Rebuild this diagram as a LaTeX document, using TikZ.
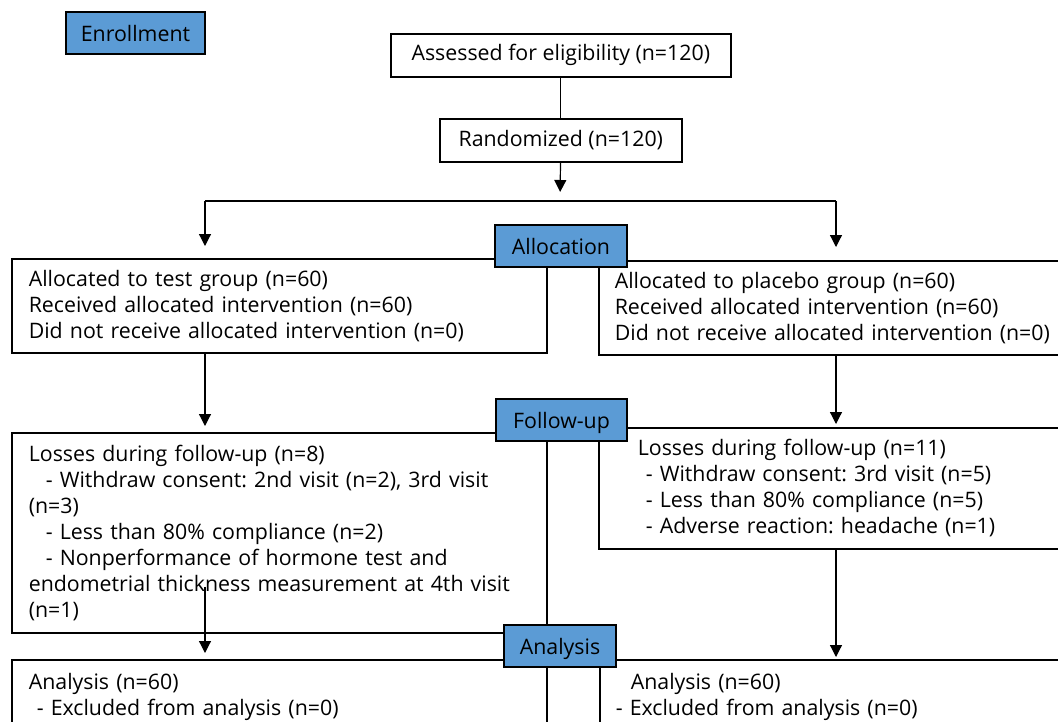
\documentclass[tikz,border=0pt]{standalone}
\usepackage{fontspec}
\setmainfont{Open Sans}
\usetikzlibrary{arrows.meta,calc}
\definecolor{stageblue}{HTML}{5B9BD5}
\frenchspacing
\begin{document}
\begin{tikzpicture}[x=0.75pt, y=-0.75pt,
  txt/.style={font=\fontsize{16}{19.5}\selectfont},
  box/.style={txt, draw=black, line width=1.2pt, anchor=north west, align=left, inner ysep=0pt},
  stage/.style={txt, draw=black, fill=stageblue, line width=1.5pt, minimum height=31.5pt, inner sep=0pt,
    text height=12pt, text depth=0pt},
  arr/.style={line width=0.9pt, -{Triangle[length=9pt,width=9pt]}}]
\useasboundingbox (0,0) rectangle (1058,722);
\clip (0,0) rectangle (1058,722);
% boxes
\node[box, minimum width=255pt, minimum height=32.25pt] (assess) at (390,33) {Assessed for eligibility (n=120)};
\node[box, minimum width=181.5pt, minimum height=32.25pt] (rand) at (439,118) {Randomized (n=120)};
\node[box, text width=375.75pt, inner xsep=12.75pt, minimum height=70.5pt] (allocL) at (11,258)
  {Allocated to test group (n=60)\\Received allocated intervention (n=60)\\Did not receive allocated intervention (n=0)};
\node[box, text width=330pt, inner xsep=12pt, minimum height=70.5pt] (allocR) at (598,260)
  {Allocated to placebo group (n=60)\\Received allocated intervention (n=60)\\Did not receive allocated intervention (n=0)};
\node[box, text width=375.75pt, inner xsep=12.75pt, minimum height=150pt] (fuL) at (11,432)
  {Losses during follow-up (n=8)\\
   \hspace*{12.75pt}- Withdraw consent: 2nd visit (n=2), 3rd visit\\
   (n=3)\\
   \hspace*{12.75pt}- Less than 80\% compliance (n=2)\\
   \hspace*{12.75pt}- Nonperformance of hormone test and\\
   endometrial thickness measurement at 4th visit\\
   (n=1)};
\node[box, text width=295.5pt, inner xsep=29.25pt, minimum height=90.75pt] (fuR) at (598,427)
  {Losses during follow-up (n=11)\\
   \hspace*{6pt}- Withdraw consent: 3rd visit (n=5)\\
   \hspace*{6pt}- Less than 80\% compliance (n=5)\\
   \hspace*{6pt}- Adverse reaction: headache (n=1)};
\node[box, text width=375.75pt, inner xsep=12.75pt, inner ysep=9.75pt, text depth=80pt] (anL) at (11,659)
  {Analysis (n=60)\\\hspace*{6pt}- Excluded from analysis (n=0)};
\node[box, text width=330pt, inner xsep=12pt, inner ysep=9.75pt, text depth=80pt] (anR) at (599,659)
  {\hspace*{11.25pt}Analysis (n=60)\\- Excluded from analysis (n=0)};
% stage labels
\foreach \nm/\txt/\x/\y/\w in {enroll/Enrollment/135.5/33/104.25, alloc/Allocation/561/246/99,
  follow/Follow-up/561.5/420/98.25, anlys/Analysis/560/646/84}
  \node[stage, minimum width=\w pt] (\nm) at (\x,\y) {\txt};
% connectors
\coordinate (split) at (560,201);
\coordinate (splitL) at (205,201);
\coordinate (splitR) at (836,201);
\draw[line width=0.8pt] (assess) -- (rand);
\draw[arr, shorten >=6.75pt] (rand) -- (split);
\draw[line width=1.5pt] (splitL) -- (splitR);
\draw[arr, shorten >=9pt] (splitL) -- (allocL.north -| splitL);
\draw[arr, shorten >=9.75pt] (splitR) -- (allocR.north -| splitR);
\draw[arr, shorten >=4.5pt] (allocL.south -| splitL) -- (fuL.north -| splitL);
\draw[arr, shorten >=2.25pt] (allocR.south -| splitR) -- (fuR.north -| splitR);
\draw[arr, shorten >=4.5pt] ($(fuL.south -| splitL)+(0,-47)$) -- (anL.north -| splitL);
\draw[arr, shorten >=1.5pt] (fuR.south -| splitR) -- (anR.north -| splitR);
\end{tikzpicture}
\end{document}
